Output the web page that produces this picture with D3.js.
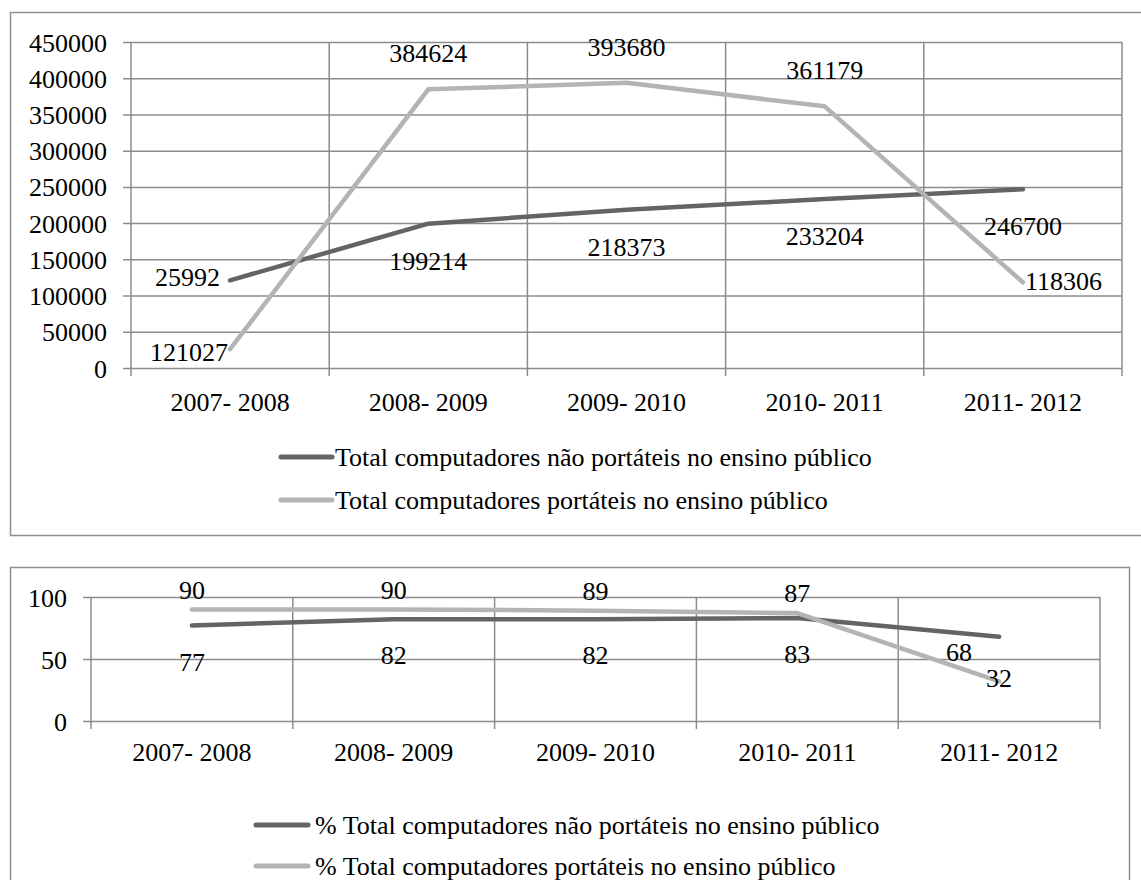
<!DOCTYPE html>
<html><head><meta charset="utf-8">
<script src="https://cdn.jsdelivr.net/npm/d3@7"></script>
<style>
html,body{margin:0;padding:0;background:#fff;}
svg{display:block;}
</style></head>
<body>
<svg id="chart" width="1141" height="880"></svg>
<script>
// ---- data ----
const categories = ["2007- 2008","2008- 2009","2009- 2010","2010- 2011","2011- 2012"];

const topTicks = [0,50000,100000,150000,200000,250000,300000,350000,400000,450000];
const topNonPortable = [121027,199214,218373,233204,246700];
const topPortable    = [25992,384624,393680,361179,118306];
const topNonPortableLabels = ["25992","199214","218373","233204","246700"];
const topPortableLabels    = ["121027","384624","393680","361179","118306"];
const topLegend = ["Total computadores não portáteis no ensino público",
                   "Total computadores portáteis no ensino público"];

const botTicks = [0,50,100];
const botNonPortable = [77,82,82,83,68];
const botPortable    = [90,90,89,87,32];
const botNonPortableLabels = ["77","82","82","83","68"];
const botPortableLabels    = ["90","90","89","87","32"];
const botLegend = ["% Total computadores não portáteis no ensino público",
                   "% Total computadores portáteis no ensino público"];

// label placements (style)
const topDarkPlace  = ["left","below","below","below","below"];
const topLightPlace = ["left2","above","above","above","right"];
const botDarkPlace  = ["below","below","below","below","leftbelow"];
const botLightPlace = ["above","above","above","above","center"];

const DARK = "#646464", LIGHT = "#b4b4b4", GRID = "#8c8c8c", BORDER = "#8f8f8f";
const FS = 26;
const FONT = '"Liberation Serif", "Times New Roman", serif';

const svg = d3.select("#chart");

function txt(sel){ return sel.style("font-family",FONT).attr("font-size",FS).attr("fill","#000"); }

function panel(cfg){
  const g = svg.append("g");
  g.append("rect").attr("x",cfg.box[0]).attr("y",cfg.box[1])
    .attr("width",cfg.box[2]).attr("height",cfg.box[3])
    .attr("fill","none").attr("stroke",BORDER).attr("stroke-width",1.5);

  const x = d3.scaleBand().domain(categories).range([cfg.left,cfg.right]);
  const y = d3.scaleLinear().domain([0,cfg.max]).range([cfg.bottom,cfg.top]);

  // horizontal gridlines + y ticks
  const yAxis = d3.axisLeft(y).tickValues(cfg.ticks).tickSize(cfg.right-cfg.left+8)
      .tickPadding(16).tickFormat(d3.format("d"));
  const ya = g.append("g").attr("transform",`translate(${cfg.right},0)`).call(yAxis);
  ya.attr("font-family",null);
  ya.select(".domain").remove();
  ya.selectAll(".tick line").attr("stroke",GRID).attr("stroke-width",1.5);
  txt(ya.selectAll(".tick text"))
    .attr("x",-(cfg.right-cfg.left+8)-16).attr("dy","0.35em");

  // vertical gridlines at band boundaries
  const bounds = categories.map(c=>x(c)).concat([x.range()[1]]);
  g.selectAll(".vgrid").data(bounds).join("line")
    .attr("x1",d=>d).attr("x2",d=>d).attr("y1",cfg.top).attr("y2",cfg.bottom+8)
    .attr("stroke",GRID).attr("stroke-width",1.5);

  // x labels
  txt(g.selectAll(".xl").data(categories).join("text")
    .attr("x",d=>x(d)+x.bandwidth()/2).attr("y",cfg.xLabelY).attr("dy","0.35em")
    .attr("text-anchor","middle")).text(d=>d);

  const line = d3.line().x((d,i)=>x(categories[i])+x.bandwidth()/2).y(d=>y(d));
  [[cfg.dark,DARK],[cfg.light,LIGHT]].forEach(([vals,col])=>{
    g.append("path").datum(vals).attr("d",line).attr("fill","none")
      .attr("stroke",col).attr("stroke-width",4.5).attr("stroke-linecap","round")
      .attr("stroke-linejoin","round");
  });

  function labels(vals,texts,places){
    vals.forEach((v,i)=>{
      const px = x(categories[i])+x.bandwidth()/2, py = y(v);
      const p = cfg.offsets[places[i]];
      txt(g.append("text").attr("x",px+p[0]).attr("y",py+p[1]).attr("dy","0.35em")
        .attr("text-anchor",p[2])).text(texts[i]);
    });
  }
  labels(cfg.dark,cfg.darkLabels,cfg.darkPlace);
  labels(cfg.light,cfg.lightLabels,cfg.lightPlace);

  // legend
  [[cfg.legend[0],DARK],[cfg.legend[1],LIGHT]].forEach(([t,col],i)=>{
    const ly = cfg.legendY[i];
    g.append("line").attr("x1",cfg.legendX[0]).attr("x2",cfg.legendX[1])
      .attr("y1",ly).attr("y2",ly).attr("stroke",col).attr("stroke-width",5)
      .attr("stroke-linecap","round");
    txt(g.append("text").attr("x",cfg.legendX[2]).attr("y",ly).attr("dy","0.35em")).text(t);
  });
}

panel({
  box:[10.5,12.5,1160,523],
  left:131,right:1122,top:42,bottom:368,max:450000,ticks:topTicks,
  xLabelY:402,
  dark:topNonPortable,light:topPortable,
  darkLabels:topNonPortableLabels,lightLabels:topPortableLabels,
  darkPlace:topDarkPlace,lightPlace:topLightPlace,
  offsets:{left:[-10,-3,"end"],left2:[-2,3,"end"],below:[0,37,"middle"],above:[0,-36,"middle"],right:[2,-1,"start"]},
  legend:topLegend,legendY:[457,500],legendX:[281,332,335]
});

panel({
  box:[10.5,567.5,1119,340],
  left:91,right:1100,top:597,bottom:721,max:100,ticks:botTicks,
  xLabelY:752,
  dark:botNonPortable,light:botPortable,
  darkLabels:botNonPortableLabels,lightLabels:botPortableLabels,
  darkPlace:botDarkPlace,lightPlace:botLightPlace,
  offsets:{below:[0,36,"middle"],above:[0,-20,"middle"],leftbelow:[-27,15,"end"],center:[0,-3,"middle"]},
  legend:botLegend,legendY:[825,866],legendX:[256,308,315]
});
</script>
</body></html>
